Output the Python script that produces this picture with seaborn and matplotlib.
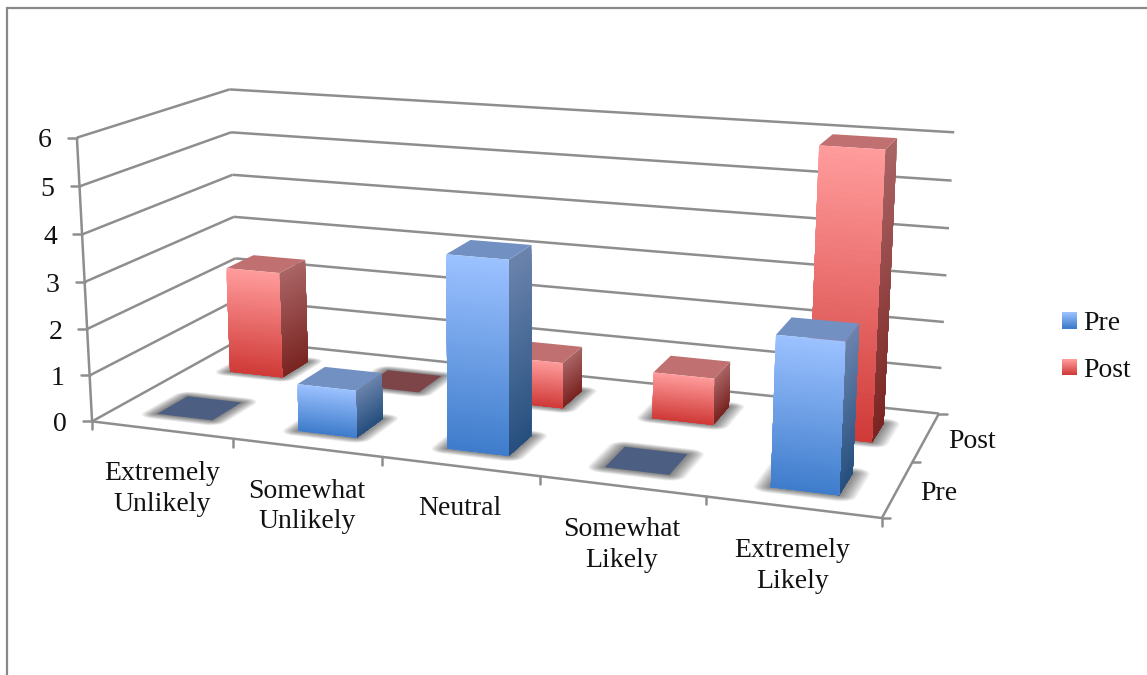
import numpy as np
import seaborn as sns
import matplotlib
matplotlib.use("Agg")
import matplotlib.pyplot as plt
from matplotlib.lines import Line2D
from matplotlib.patches import Patch, Rectangle
from matplotlib.legend_handler import HandlerBase
from mpl_toolkits.mplot3d.art3d import Poly3DCollection

# Survey responses
categories = ["Extremely\nUnlikely", "Somewhat\nUnlikely", "Neutral",
              "Somewhat\nLikely", "Extremely\nLikely"]
series_names = ["Pre", "Post"]
pre_counts = [0, 1, 4, 0, 3]
post_counts = [2.4, 0, 1, 1, 6]
value_ticks = [0, 1, 2, 3, 4, 5, 6]

W, H = 1147, 675
GRID = "#8e8e8e"
TEXT = "#111111"
FONT_SIZE = 20

sns.set_theme(style="white")
plt.rcParams["font.family"] = ["Liberation Serif"]

STYLE = {
    "Pre": dict(front=("#9bc1ff", "#3f7dcc"), side=("#6a83ad", "#27507f"),
                top="#7291c2", flat="#4c5f82"),
    "Post": dict(front=("#ff9b9b", "#d03b38"), side=("#a96464", "#7a2522"),
                 top="#c07070", flat="#7d4548"),
}

# Box corners and wall lines (category, series, value) -> canvas position,
# from which the oblique camera of the chart is solved.
box_xyz = np.array([
    (0, 0, 6), (0, 0, 5), (0, 0, 4), (0, 0, 3), (0, 0, 2), (0, 0, 1), (0, 0, 0),
    (0, 2, 6), (0, 2, 5), (0, 2, 4), (0, 2, 3), (0, 2, 2),
    (5, 2, 6), (5, 2, 5), (5, 2, 4), (5, 2, 3), (5, 2, 2), (5, 2, 1), (5, 2, 0),
    (5, 0, 0), (5, 1, 0), (1, 0, 0), (2, 0, 0), (3, 0, 0), (4, 0, 0),
], dtype=float)
box_px = np.array([
    (76, 137.7), (80, 186), (82.3, 234.7), (85, 282), (87.3, 328.7), (90, 375), (92.3, 421),
    (230, 89.3), (230.7, 132), (232.3, 175), (234, 216.7), (235.3, 258.7),
    (954.3, 132.7), (951.7, 180.7), (949, 228.3), (946.3, 275.3), (943.7, 322), (941.3, 368.3), (939, 413.3),
    (881.7, 517.3), (913.3, 461), (232.7, 439.3), (382.3, 458), (539.3, 476.7), (706, 496.7),
], dtype=float)


def solve_camera(xyz, px):
    rows = []
    for (x, y, z), (u, v) in zip(xyz, px):
        X = [x, y, z, 1.0]
        rows.append(X + [0, 0, 0, 0] + [-u * c for c in X])
        rows.append([0, 0, 0, 0] + X + [-v * c for c in X])
    P = np.linalg.svd(np.array(rows))[2][-1].reshape(3, 4)
    if P[2, 3] < 0:
        P = -P
    return P


P = solve_camera(box_xyz, box_px)
CAMERA = np.vstack([P[0], P[1], [0, 1, 0, 0], P[2]])


def project(x, y, z):
    u, v, w = P @ np.array([x, y, z, 1.0])
    return u / w, v / w


fig = plt.figure(figsize=(W / 100, H / 100), dpi=100, facecolor="white")
ax = fig.add_axes([0, 0, 1, 1], projection="3d", computed_zorder=False)
ax.set_axis_off()
ax.patch.set_alpha(0)
ax.set_proj_type("ortho")
ax.get_proj = lambda: CAMERA
ax.apply_aspect = lambda position=None: None
ax.viewLim.intervalx = (0, W)
ax.viewLim.intervaly = (H, 0)

# Outer chart frame, running off the right and bottom of the canvas
fig.add_artist(Rectangle((6.5 / W, -0.1), 1.2, 1.1 - 8.5 / H, transform=fig.transFigure,
                         fill=False, ec="#888888", lw=1.6))


def line3d(p0, p1, z):
    ax.plot(*zip(p0, p1), color=GRID, lw=1.8, zorder=z, solid_capstyle="butt")


# Walls and floor edges
for k in value_ticks:
    line3d((0, 0, k), (0, 2, k), 1)
    line3d((0, 2, k), (5, 2, k), 1)
line3d((0, 0, 0), (0, 0, value_ticks[-1]), 2)
line3d((0, 0, 0), (5, 0, 0), 2)
line3d((5, 0, 0), (5, 2, 0), 2)


def tick(x, y, z, dx, dy):
    u, v = project(x, y, z)
    ax.add_artist(Line2D([u, u + dx], [v, v + dy], color=GRID, lw=1.8,
                         transform=ax.transData, zorder=2))


for k in value_ticks:
    tick(0, 0, k, -9, 0)
    u, v = project(0, 0, k)
    ax.text2D(u - 25, v + 3, str(k), ha="right", va="center", color=TEXT,
              fontsize=FONT_SIZE, transform=ax.transData)
for i in range(len(categories) + 1):
    tick(i, 0, 0, 0, 8)
for j in range(len(series_names) + 1):
    tick(5, j, 0, 8, 0)

for i, label in enumerate(categories):
    u, v = project(i + 0.5, 0, 0)
    drop = 59 if "\n" in label else 42
    ax.text2D(u, v + drop, label, ha="center", va="center", color=TEXT, linespacing=1.29,
              fontsize=FONT_SIZE, transform=ax.transData)
for j, label in enumerate(series_names):
    u, v = project(5, j + 0.5, 0)
    ax.text2D(u + 22, v + 4.5, label, ha="left", va="center", color=TEXT,
              fontsize=FONT_SIZE, transform=ax.transData)


def add_face(corners, color, z):
    col = Poly3DCollection([corners], facecolors=[color], edgecolors="none", linewidths=0)
    col.set_zorder(z)
    ax.add_collection3d(col, autolim=False)


def rounded_footprint(x0, x1, y0, y1, pad):
    # Bar footprint grown by pad, with corners rounded off
    pts = []
    arcs = [(x1, y1, 0.0), (x0, y1, 0.5), (x0, y0, 1.0), (x1, y0, 1.5)]
    for cx, cy, start in arcs:
        for t in np.linspace(start, start + 0.5, 6) * np.pi:
            pts.append((cx + pad * np.cos(t), cy + pad * np.sin(t), 0))
    return pts


def add_shadow(x0, x1, y0, y1, z):
    for pad in np.linspace(0.10, 0.0, 16):
        add_face(rounded_footprint(x0, x1, y0, y1, pad), (0, 0, 0, 0.04), z)


def add_bar(i, j, value, style, z):
    x0, x1 = i + 0.31, i + 0.705
    y0, y1 = j + 0.28, j + 0.68
    add_shadow(x0, x1, y0, y1, z)
    top = [(x0, y0, value), (x1, y0, value), (x1, y1, value), (x0, y1, value)]
    if value == 0:
        add_face(top, style["flat"], z + 0.1)
        return
    levels = np.linspace(value, 0, 48)[:-1]
    front_cols = sns.blend_palette(style["front"], len(levels))
    side_cols = sns.blend_palette(style["side"], len(levels))
    # Each step repaints from its level down to the floor, so the ramp has no seams
    for n, (a, fc, sc) in enumerate(zip(levels, front_cols, side_cols)):
        add_face([(x1, y0, a), (x1, y1, a), (x1, y1, 0), (x1, y0, 0)], sc, z + 0.1 + n * 1e-3)
        add_face([(x0, y0, a), (x1, y0, a), (x1, y0, 0), (x0, y0, 0)], fc, z + 0.3 + n * 1e-3)
    add_face(top, style["top"], z + 0.2)


# Rear series first so the front row overlaps it
z = 10
for j, (name, counts) in reversed(list(enumerate(zip(series_names, [pre_counts, post_counts])))):
    for i, value in enumerate(counts):
        add_bar(i, j, value, STYLE[name], z)
        z += 1


class GradientSwatch(HandlerBase):
    def __init__(self, colors):
        super().__init__()
        self.colors = sns.blend_palette(colors, 16)

    def create_artists(self, legend, orig_handle, xdescent, ydescent, width, height, fontsize, trans):
        step = height / len(self.colors)
        return [Rectangle((-xdescent, -ydescent + height - step * (n + 1)), width, step * 1.05,
                          facecolor=c, edgecolor="none", transform=trans)
                for n, c in enumerate(self.colors)]


handles = [Patch(label=name) for name in series_names]
ax.legend(handles=handles, loc="upper left", frameon=False, fontsize=FONT_SIZE,
          bbox_to_anchor=(1062 / W, 1 - 311 / H), bbox_transform=fig.transFigure,
          borderpad=0, borderaxespad=0, handlelength=0.55, handleheight=0.55, handletextpad=0.22,
          labelspacing=0.79, labelcolor=TEXT,
          handler_map={h: GradientSwatch(STYLE[h.get_label()]["front"]) for h in handles})

fig.savefig("out.png", dpi=100)
